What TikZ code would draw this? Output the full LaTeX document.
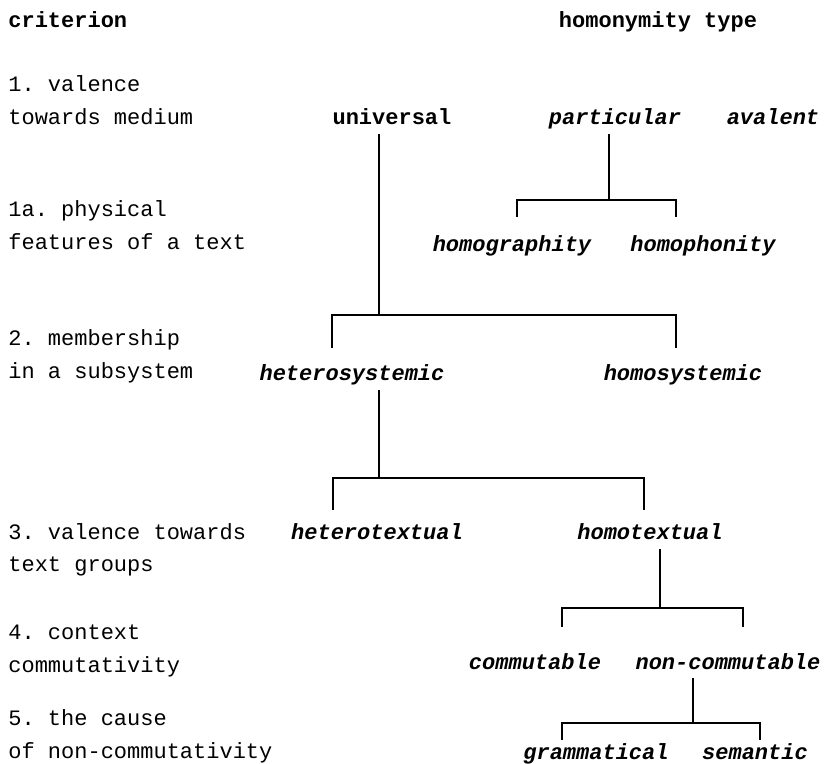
\documentclass[tikz,border=0pt]{standalone}
\usepackage{fontspec}
\setmonofont{Liberation Mono}
\usetikzlibrary{positioning}
\tikzset{
  crit/.style={anchor=base west, inner sep=0pt, align=left, font=\ttfamily\fontsize{11}{16.5}\selectfont},
  headtxt/.style={inner sep=0pt, font=\ttfamily\bfseries\fontsize{11}{13}\selectfont},
  htype/.style={anchor=base, text height=1.5ex, text depth=.25ex, font=\ttfamily\bfseries\itshape\fontsize{11}{13}\selectfont},
  branch/.style={line width=1pt},
}

\begin{document}
\begin{tikzpicture}[x=0.5pt, y=-0.5pt]
\useasboundingbox (0,0) rectangle (825,764);
% Column heads
\node[headtxt, anchor=base west] (hcrit) at (8,28) {criterion};
\node[headtxt, anchor=base] (htyp) at (658,28) {homonymity type};

% Criteria (anchored at the baseline of the second line)
\node[crit] (c1) at (8,125) {1. valence\\towards medium};
\node[crit] (c1a) at (8,250) {1a. physical\\features of a text};
\node[crit] (c2) at (8,379) {2. membership\\in a subsystem};
\node[crit] (c3) at (8,572) {3. valence towards\\text groups};
\node[crit] (c4) at (8,672) {4. context\\commutativity};
\node[crit] (c5) at (8,758) {5. the cause\\of non-commutativity};

% Homonymity types
\node[htype, font=\ttfamily\bfseries\fontsize{11}{13}\selectfont] (univ) at (392,125) {universal};
\node[htype] (part) at (615,125) {particular};
\node[htype] (aval) at (773,125) {avalent};
\node[htype] (graph) at (512,252) {homographity};
\node[htype] (phon) at (703,252) {homophonity};
\node[htype] (hetsys) at (352,381) {heterosystemic};
\node[htype] (homsys) at (683,381) {homosystemic};
\node[htype] (hettxt) at (377,540) {heterotextual};
\node[htype] (homtxt) at (650,540) {homotextual};
\node[htype] (comm) at (535,669) {commutable};
\node[htype] (noncomm) at (728,669) {non-commutable};
\node[htype] (gram) at (596,759) {grammatical};
\node[htype] (sem) at (755,759) {semantic};

% Branchings
\coordinate (j1) at (609,200);
\coordinate (l1) at (517,217);
\coordinate (r1) at (676,217);
\draw[branch] (j1 |- part.south) -- (j1);
\draw[branch] (l1) |- (j1) -| (r1);

\coordinate (j2) at (379,315);
\coordinate (l2) at (332,348);
\coordinate (r2) at (676,348);
\draw[branch] (j2 |- univ.south) -- (j2);
\draw[branch] (l2) |- (j2) -| (r2);

\coordinate (j3) at (379,478);
\coordinate (l3) at (333,510);
\coordinate (r3) at (644,510);
\draw[branch] (j3 |- hetsys.south) -- (j3);
\draw[branch] (l3) |- (j3) -| (r3);

\coordinate (j4) at (660,608);
\coordinate (l4) at (562,627);
\coordinate (r4) at (743,627);
\draw[branch] (j4 |- homtxt.south) -- (j4);
\draw[branch] (l4) |- (j4) -| (r4);

\coordinate (j5) at (693,723);
\coordinate (l5) at (562,740);
\coordinate (r5) at (760,740);
\draw[branch] (j5 |- noncomm.south) -- (j5);
\draw[branch] (l5) |- (j5) -| (r5);
\end{tikzpicture}
\end{document}
